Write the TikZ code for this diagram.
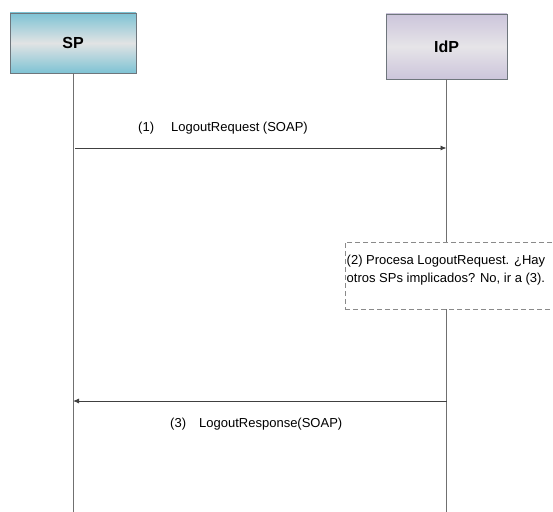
\documentclass[tikz,border=0pt]{standalone}
\usepackage{fontspec}
\setmainfont{Liberation Sans}
\usetikzlibrary{arrows.meta, positioning}

\definecolor{spblue}{HTML}{7EC3D4}
\definecolor{spmid}{HTML}{E1E3E4}
\definecolor{idplila}{HTML}{CCC5DB}
\definecolor{idpmid}{HTML}{E6E4E8}
\definecolor{framegray}{HTML}{6E767C}
\definecolor{lifegray}{HTML}{707070}
\definecolor{dashgray}{HTML}{8A8A8A}

\begin{document}
\begin{tikzpicture}[
    x=1pt, y=-1pt,
    entity/.style   = {draw=framegray, line width=0.9pt, inner sep=0pt,
                       font=\fontsize{16}{19}\selectfont\bfseries},
    lifeline/.style = {draw=lifegray, line width=0.9pt},
    msg/.style      = {-{Latex[length=6pt,width=5pt]}, line width=0.9pt,
                       draw=black!75},
    lbl/.style      = {font=\fontsize{13}{15}\selectfont, anchor=base west,
                       inner sep=0pt},
    notebox/.style  = {draw=dashgray, dash pattern=on 5pt off 3pt, fill=white,
                       line width=0.9pt, minimum width=210pt,
                       minimum height=67pt, inner sep=0pt}
  ]
  \useasboundingbox (0,0) rectangle (553,511);
  \clip (0,0) rectangle (553,511);

  % ----------------------------------------------------------------
  % Actors
  % ----------------------------------------------------------------
  \node[entity, top color=spblue, bottom color=spblue, middle color=spmid,
        minimum width=126pt, minimum height=60pt] (sp) at (73,43) {SP};
  \node[entity, top color=idplila, bottom color=idplila, middle color=idpmid,
        minimum width=121pt, minimum height=65pt] (idp) at (446.5,46.5) {IdP};

  % Lifelines down to the bottom edge
  \coordinate (spend)  at (73,512);
  \coordinate (idpend) at (446.5,512);
  \draw[lifeline] (sp.south)  -- (spend);
  \draw[lifeline] (idp.south) -- (idpend);

  % ----------------------------------------------------------------
  % (1) request SP -> IdP
  % ----------------------------------------------------------------
  \coordinate (req-sp)  at (75,148);
  \coordinate (req-idp) at (446.5,148);
  \draw[msg] (req-sp) -- (req-idp);
  \node[lbl] (req-num) at (138,131) {(1)};
  \node[lbl] (req-txt) at (171,131) {LogoutRequest (SOAP)};

  % ----------------------------------------------------------------
  % (2) processing note on the IdP lifeline
  % ----------------------------------------------------------------
  \node[notebox] (note) at (450,275.5) {};
  \node[lbl] (note-l1) at (346.5,264.5) {(2) Procesa LogoutRequest. ¿Hay};
  \node[lbl] (note-l2) at (346.5,282) {otros SPs implicados? No, ir a (3).};

  % ----------------------------------------------------------------
  % (3) response IdP -> SP
  % ----------------------------------------------------------------
  \coordinate (resp-idp) at (446.5,401);
  \coordinate (resp-sp)  at (73,401);
  \draw[msg] (resp-idp) -- (resp-sp);
  \node[lbl] (resp-num) at (170,427) {(3)};
  \node[lbl] (resp-txt) at (199,427) {LogoutResponse(SOAP)};

\end{tikzpicture}
\end{document}
